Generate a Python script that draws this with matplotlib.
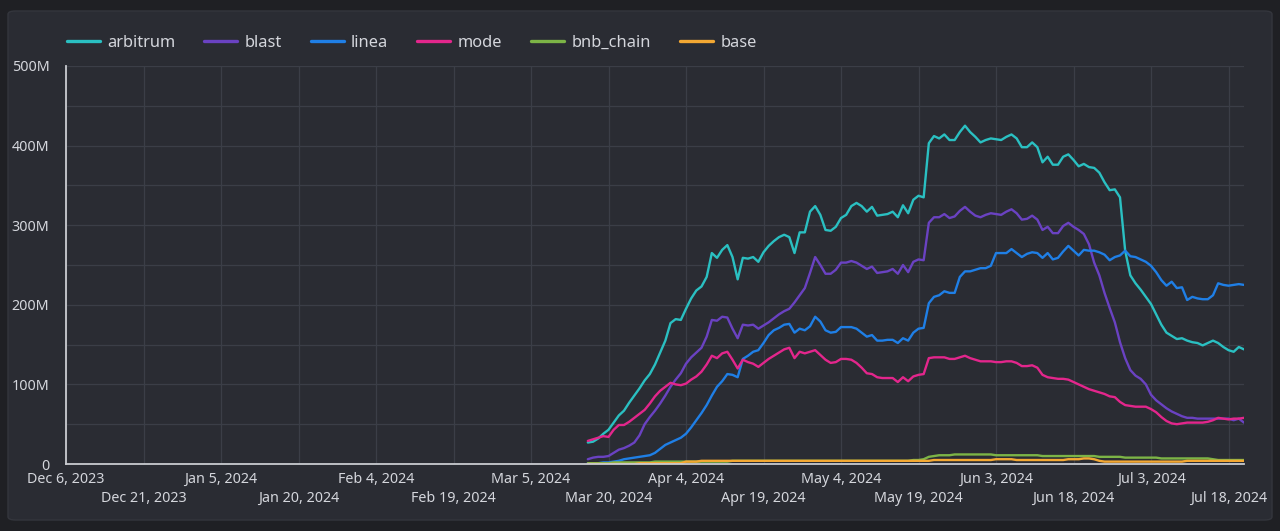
import matplotlib
matplotlib.use("Agg")
import matplotlib.pyplot as plt
import matplotlib.dates as mdates
from matplotlib.patches import FancyBboxPatch
from matplotlib.ticker import FuncFormatter, MultipleLocator
import pandas as pd

plt.rcParams['font.family'] = ['Noto Sans', 'DejaVu Sans']

start_date = "2024-03-16"

arbitrum = [27, 28, 32, 38, 43, 52, 61, 67, 77, 86, 95, 105, 113, 125, 140, 155, 177, 182, 181, 195,
            208, 218, 223, 235, 265, 259, 269, 275, 260, 232, 259, 258, 260, 254, 266, 274, 280, 285, 288, 285,
            265, 291, 291, 317, 324, 313, 294, 293, 298, 309, 313, 324, 328, 324, 317, 323, 312, 313, 314, 317,
            310, 325, 315, 332, 337, 335, 403, 412, 409, 414, 407, 407, 417, 425, 417, 411, 404, 407, 409, 408,
            407, 411, 414, 409, 398, 398, 404, 398, 379, 386, 376, 376, 386, 389, 382, 374, 377, 373, 372, 366,
            354, 344, 345, 335, 268, 237, 227, 219, 210, 201, 188, 175, 165, 161, 157, 158, 155, 153, 152, 149,
            152, 155, 152, 147, 143, 141, 147, 144]

blast = [6, 8, 9, 9, 10, 14, 18, 20, 23, 27, 36, 50, 59, 67, 76, 86, 97, 106, 114, 126,
         134, 140, 146, 160, 181, 180, 185, 184, 170, 158, 175, 174, 175, 170, 174, 178, 183, 188, 192, 195,
         203, 212, 221, 240, 260, 250, 239, 239, 244, 253, 253, 255, 253, 249, 245, 248, 240, 241, 242, 245,
         239, 250, 241, 254, 257, 256, 303, 310, 310, 314, 309, 311, 318, 323, 317, 312, 310, 313, 315, 314,
         313, 317, 320, 315, 307, 308, 312, 307, 294, 298, 290, 290, 299, 303, 298, 294, 289, 276, 253, 237,
         215, 196, 178, 153, 133, 118, 111, 107, 100, 87, 80, 75, 70, 66, 63, 60, 58, 58, 57, 57,
         57, 57, 57, 57, 57, 55, 57, 52]

linea = [1, 1, 1, 2, 2, 3, 4, 6, 7, 8, 9, 10, 11, 14, 19, 24, 27, 30, 33, 38,
         46, 55, 64, 74, 86, 97, 104, 113, 112, 109, 132, 136, 141, 143, 152, 162, 168, 171, 175, 176,
         165, 170, 168, 173, 185, 179, 168, 165, 166, 172, 172, 172, 170, 165, 160, 162, 155, 155, 156, 156,
         152, 158, 155, 165, 170, 171, 202, 210, 212, 217, 215, 215, 235, 242, 242, 244, 246, 246, 249, 265,
         265, 265, 270, 265, 260, 264, 266, 265, 259, 265, 257, 259, 267, 274, 268, 262, 269, 268, 268, 266,
         263, 256, 260, 262, 268, 261, 260, 257, 254, 249, 241, 231, 224, 229, 221, 222, 206, 210, 208, 207,
         207, 212, 227, 225, 224, 225, 226, 225]

mode = [29, 31, 33, 35, 34, 43, 49, 49, 53, 58, 63, 68, 76, 85, 92, 97, 102, 100, 99, 101,
        106, 110, 116, 125, 136, 133, 139, 141, 131, 120, 131, 128, 126, 122, 127, 132, 136, 140, 144, 146,
        133, 141, 139, 141, 143, 137, 131, 127, 128, 132, 132, 131, 127, 121, 114, 113, 109, 108, 108, 108,
        103, 109, 104, 110, 112, 113, 133, 134, 134, 134, 132, 132, 134, 136, 133, 131, 129, 129, 129, 128,
        128, 129, 129, 127, 123, 123, 124, 121, 112, 109, 108, 107, 107, 106, 103, 100, 97, 94, 92, 90,
        88, 85, 84, 78, 74, 73, 72, 72, 72, 69, 65, 59, 54, 51, 50, 51, 52, 52, 52, 52,
        53, 55, 58, 57, 56, 57, 57, 58]

bnb_chain = [1, 1, 1, 1, 1, 2, 2, 2, 2, 2, 2, 2, 2, 3, 3, 3, 3, 3, 3, 3,
             3, 3, 3, 3, 3, 3, 3, 3, 4, 4, 4, 4, 4, 4, 4, 4, 4, 4, 4, 4,
             4, 4, 4, 4, 4, 4, 4, 4, 4, 4, 4, 4, 4, 4, 4, 4, 4, 4, 4, 4,
             4, 4, 4, 5, 5, 6, 9, 10, 11, 11, 11, 12, 12, 12, 12, 12, 12, 12, 12, 11,
             11, 11, 11, 11, 11, 11, 11, 11, 10, 10, 10, 10, 10, 10, 10, 10, 10, 10, 10, 9,
             9, 9, 9, 9, 8, 8, 8, 8, 8, 8, 8, 7, 7, 7, 7, 7, 7, 7, 7, 7,
             7, 6, 5, 5, 5, 5, 5, 5]

base = [0, 0, 0, 0, 0, 0, 0, 0, 0, 0, 1, 1, 1, 1, 1, 1, 1, 1, 1, 3,
        3, 3, 4, 4, 4, 4, 4, 4, 4, 4, 4, 4, 4, 4, 4, 4, 4, 4, 4, 4,
        4, 4, 4, 4, 4, 4, 4, 4, 4, 4, 4, 4, 4, 4, 4, 4, 4, 4, 4, 4,
        4, 4, 4, 4, 4, 4, 4, 5, 5, 5, 5, 5, 5, 5, 5, 5, 5, 5, 5, 6,
        6, 6, 6, 5, 5, 5, 5, 5, 5, 5, 5, 5, 5, 6, 6, 6, 7, 7, 6, 4,
        3, 3, 3, 3, 3, 3, 3, 3, 3, 3, 3, 3, 3, 3, 3, 3, 4, 4, 4, 4,
        4, 4, 4, 4, 4, 4, 4, 4]

series_names = ["arbitrum", "blast", "linea", "mode", "bnb_chain", "base"]
series_values = [arbitrum, blast, linea, mode, bnb_chain, base]
series_colors = ["#2ac0c2", "#6a42c2", "#1f7fe6", "#e3268c", "#7cb446", "#f3a833"]

dates = pd.date_range(start_date, periods=len(arbitrum), freq="D")

tick_dates = pd.date_range("2023-12-06", "2024-07-18", freq="15D")

BG_OUT = "#1f2024"
BG_PANEL = "#2a2c33"
GRID = "#3b3e47"
TEXT = "#d4d6dc"

fig = plt.figure(figsize=(12.8, 5.31), dpi=100, facecolor=BG_OUT)
W, H = 1280, 531
panel = FancyBboxPatch((8 / W, 11 / H), (1264) / W, (509) / H,
                       boxstyle="round,pad=0,rounding_size=0.006",
                       transform=fig.transFigure, facecolor=BG_PANEL,
                       edgecolor="#34363d", linewidth=1.0, zorder=-10)
fig.patches.append(panel)

ax = fig.add_axes([66 / W, 1 - 464 / H, (1244 - 66) / W, (464 - 66) / H])
ax.set_zorder(5)
ax.set_facecolor("none")

for name, vals, col in zip(series_names, series_values, series_colors):
    ax.plot(dates, [v * 1e6 for v in vals], color=col, lw=1.7, label=name,
            solid_joinstyle="round", solid_capstyle="round")

ax.set_xlim(pd.Timestamp("2023-12-06"), pd.Timestamp("2024-07-21"))
ax.set_ylim(0, 500e6)

ax.yaxis.set_major_locator(MultipleLocator(100e6))
ax.yaxis.set_minor_locator(MultipleLocator(50e6))
ax.yaxis.set_major_formatter(FuncFormatter(lambda v, p: "0" if v == 0 else f"{int(v / 1e6)}M"))

ax.set_xticks(tick_dates)
labels = []
for i, d in enumerate(tick_dates):
    s = f"{d.strftime('%b')} {d.day}, {d.year}"
    labels.append(s if i % 2 == 0 else "\n" + s)
ax.set_xticklabels(labels)

ax.grid(True, which="major", color=GRID, lw=0.9)
ax.grid(True, which="minor", axis="y", color=GRID, lw=0.9)
ax.set_axisbelow(True)

for s in ["top", "right"]:
    ax.spines[s].set_visible(False)
for s in ["left", "bottom"]:
    ax.spines[s].set_color("#c9cbd0")
    ax.spines[s].set_linewidth(1.3)

ax.tick_params(axis="both", which="both", length=0, colors=TEXT, labelsize=10.3)
ax.tick_params(axis="x", pad=6)
ax.tick_params(axis="y", pad=12)
for t in ax.get_xticklabels():
    t.set_linespacing(1.32)

leg = fig.legend(loc="upper left", bbox_to_anchor=(52 / W, 1 - 20 / H), ncol=6,
                 frameon=False, fontsize=11.8, handlelength=2.0, handletextpad=0.45,
                 columnspacing=1.78, labelcolor=TEXT)
for h in leg.get_lines():
    h.set_linewidth(2.4)

fig.savefig("out.png", dpi=100, facecolor=BG_OUT)
